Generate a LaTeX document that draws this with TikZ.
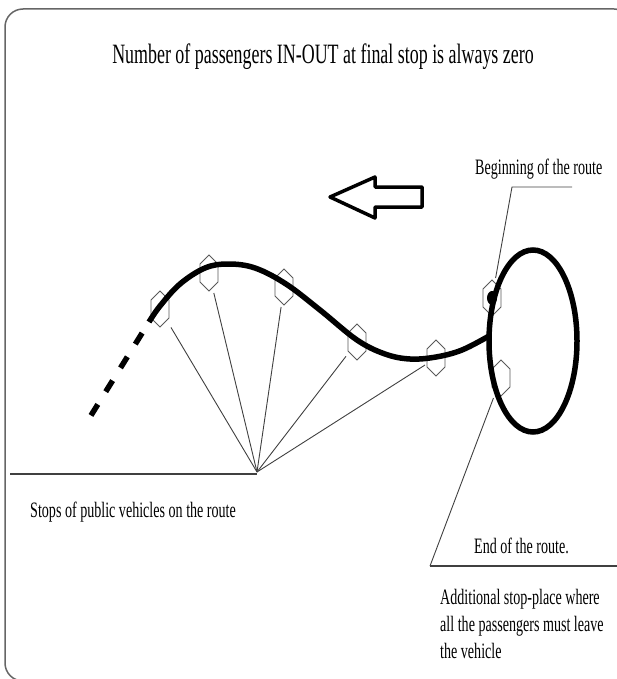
\documentclass[tikz,border=0pt]{standalone}
\usepackage{fontspec}
\setmainfont{Liberation Serif}[FakeStretch=0.64]
\begin{document}
\begin{tikzpicture}[x=1pt,y=-1pt,
    stopmark/.style={minimum width=18pt,minimum height=36pt,inner sep=0pt,outer sep=2pt},
    hexline/.style={draw=black!65,line width=0.9pt},
    lead/.style={draw=black!75,line width=0.9pt},
    route/.style={line width=5.5pt},
    lbl/.style={font=\fontsize{22}{27}\selectfont,inner sep=0pt}]
  \useasboundingbox (0,0) rectangle (617,679);
  \clip (0,0) rectangle (617,679);
  \draw[black!60,line width=1.5pt,rounded corners=18pt] (5,9) rectangle (632,681);

  \node[font=\fontsize{28}{34}\selectfont,anchor=base] (title) at (323,64)
    {Number of passengers IN-OUT at final stop is always zero};

  % direction of travel
  \draw[line width=3.5pt,line join=round]
    (330,197) -- (375,177) -- (375,187) -- (422,187) -- (422,207)
    -- (375,207) -- (375,218) -- cycle;

  % stops on the route
  \node[stopmark] (s1) at (160,309) {};
  \node[stopmark] (s2) at (209,273) {};
  \node[stopmark] (s3) at (284,287) {};
  \node[stopmark] (s4) at (357,342) {};
  \node[stopmark] (s5) at (436,358) {};
  \node[stopmark] (sb) at (492,298) {};
  \node[stopmark] (se) at (501,378) {};
  \foreach \s in {s1,s2,s3,s4,s5,sb,se}
    \draw[hexline] ([yshift=-18pt]\s.center) -- ++(9,-9) -- ++(0,-18)
      -- ++(-9,-9) -- ++(-9,9) -- ++(0,18) -- cycle;

  \coordinate (fan) at (257,472);
  \foreach \s in {s1,s2,s3,s4,s5}
    \draw[lead] (fan) -- (\s);

  % the route and the loop
  \draw[route] plot[smooth,tension=0.6] coordinates {(149,322) (160,306)
    (180,284) (205,268) (228,264) (255,268) (286,284) (320,310) (357,340)
    (385,354) (410,359) (436,357) (462,350) (489,336)};
  \draw[route,dash pattern=on 13pt off 15pt,dash phase=15pt] (149,322) -- (90,417);
  \draw[route] (533,341) ellipse [x radius=44, y radius=91];
  \fill (sb) ellipse [x radius=5, y radius=7];

  % labels
  \node[lbl,anchor=base west] (begin) at (475,175) {Beginning of the route};
  \coordinate (bl) at (512,187);
  \coordinate (br) at (572,187);
  \draw[lead] (br) -- (bl) -- (sb);

  \coordinate (sl) at (10,474);
  \draw[lead,line width=1.3pt] (sl) -- (sl -| fan);
  \node[lbl,anchor=base west] (stops) at (30,517) {Stops of public vehicles on the route};

  \node[lbl,anchor=base west] (end) at (474,553) {End of the route.};
  \coordinate (el) at (430,566);
  \coordinate (er) at (617,566);
  \draw[lead,line width=1.3pt] (er) -- (el);
  \draw[lead] (el) -- (se);
  \node[lbl,anchor=north west,align=left] (extra) at (440,589)
    {Additional stop-place where\\all the passengers must leave\\the vehicle};
\end{tikzpicture}
\end{document}
